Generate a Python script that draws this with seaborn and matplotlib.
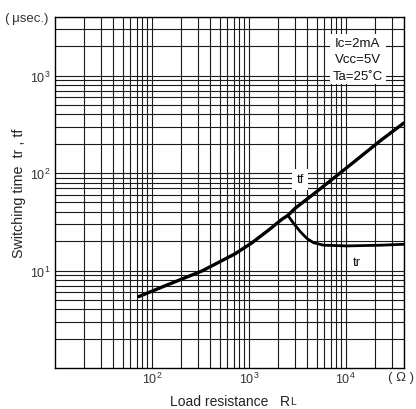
import matplotlib
matplotlib.use("Agg")
import matplotlib.pyplot as plt
import seaborn as sns
from matplotlib.ticker import LogLocator, NullFormatter

# values (RL in ohm, time in usec)
tf_rl = [73, 148, 329, 726, 1080, 1600, 2200, 2530, 3020, 4670, 10300, 22800, 39700]
tf_t = [5.4, 7.2, 9.9, 14.9, 19.3, 26, 33.6, 36.8, 43.7, 61, 114, 215, 326]

tr_rl = [2530, 2900, 3400, 3990, 4670, 5930, 10300, 22800, 39700]
tr_t = [36.8, 30.5, 25.1, 21.3, 19.3, 18.2, 17.9, 18.2, 18.6]

x_ticks = [1e2, 1e3, 1e4]
y_ticks = [1e1, 1e2, 1e3]
conditions = "Ic=2mA\nVcc=5V\nTa=25\u02daC"

sns.set_style("white")
plt.rcParams["font.family"] = ["Liberation Sans", "DejaVu Sans"]
plt.rcParams["mathtext.fontset"] = "custom"
plt.rcParams["mathtext.rm"] = "Liberation Sans"

fig = plt.figure(figsize=(4.16, 4.10), dpi=100)
ax = fig.add_axes([55 / 416, 41 / 410, 349 / 416, 351 / 410])

sns.lineplot(x=tf_rl, y=tf_t, ax=ax, color="black", lw=2.4, errorbar=None)
sns.lineplot(x=tr_rl, y=tr_t, ax=ax, color="black", lw=2.0, errorbar=None, sort=False)

ax.set_xscale("log")
ax.set_yscale("log")
ax.set_xlim(10, 4e4)
ax.set_ylim(1, 4000)

ax.set_xticks(x_ticks)
ax.set_yticks(y_ticks)
ax.xaxis.set_minor_locator(LogLocator(base=10, subs=range(2, 10), numticks=20))
ax.yaxis.set_minor_locator(LogLocator(base=10, subs=range(2, 10), numticks=20))
ax.xaxis.set_minor_formatter(NullFormatter())
ax.yaxis.set_minor_formatter(NullFormatter())
ax.grid(True, which="both", color="#1a1a1a", lw=0.8)
ax.tick_params(which="both", length=0, labelsize=9, colors="#333333")
ax.tick_params(axis="x", pad=2)
ax.tick_params(axis="y", pad=3)
for s in ax.spines.values():
    s.set_color("black")
    s.set_linewidth(1.0)

ax.set_xlabel("Load resistance   R", fontsize=10, color="#222222", labelpad=6)
ax.set_ylabel("Switching time  tr , tf", fontsize=10.3, color="#222222", labelpad=3)
ax.annotate("L", xy=(1, 0), xycoords=ax.xaxis.label, xytext=(0.5, 1.5),
            textcoords="offset points", fontsize=7.5, color="#222222",
            ha="left", va="bottom")

fig.text(5 / 416, 1 - 19 / 410, "(\u2009\u03bcsec.)", fontsize=9.5, color="#333333",
         ha="left", va="center")
fig.text(414 / 416, 1 - 378 / 410, "( \u03a9 )", fontsize=9.5, color="#333333",
         ha="right", va="center")

ax.text(0.868, 0.88, conditions, transform=ax.transAxes, fontsize=9.5,
        ha="center", va="center", linespacing=1.5, color="#111111",
        bbox=dict(facecolor="white", edgecolor="none", pad=2))
ax.text(3400, 86, "tf", fontsize=9.5, ha="center", va="center", color="#111111",
        bbox=dict(facecolor="white", edgecolor="none", pad=3))
ax.text(13100, 12.2, "tr", fontsize=9.5, ha="center", va="center", color="#111111")

fig.savefig("out.png", dpi=100)
